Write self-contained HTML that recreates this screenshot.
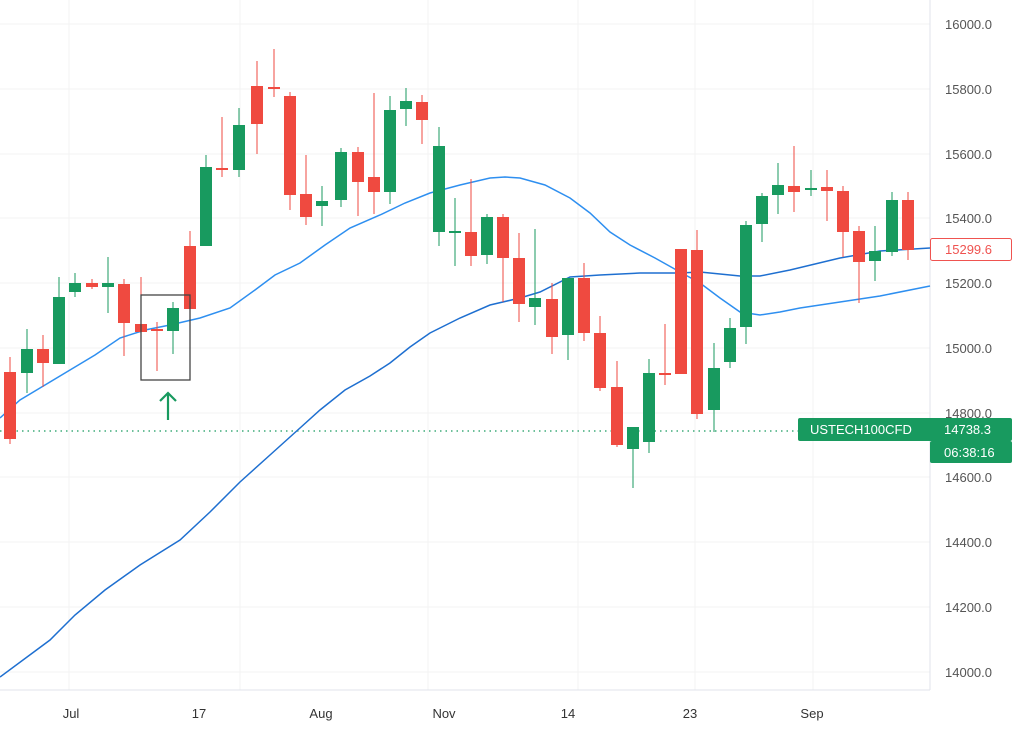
<!DOCTYPE html>
<html><head><meta charset="utf-8"><style>
body{margin:0;background:#fff;width:1024px;height:735px;overflow:hidden;font-family:"Liberation Sans",sans-serif}
</style></head><body>
<svg width="1024" height="735" xmlns="http://www.w3.org/2000/svg" font-family="Liberation Sans, sans-serif">
<g stroke="#f3f3f3" stroke-width="1">
<line x1="0" y1="24" x2="930" y2="24"/><line x1="0" y1="89" x2="930" y2="89"/><line x1="0" y1="154" x2="930" y2="154"/><line x1="0" y1="218" x2="930" y2="218"/><line x1="0" y1="283" x2="930" y2="283"/><line x1="0" y1="348" x2="930" y2="348"/><line x1="0" y1="413" x2="930" y2="413"/><line x1="0" y1="477" x2="930" y2="477"/><line x1="0" y1="542" x2="930" y2="542"/><line x1="0" y1="607" x2="930" y2="607"/><line x1="0" y1="672" x2="930" y2="672"/>
<line x1="69" y1="0" x2="69" y2="690"/><line x1="240" y1="0" x2="240" y2="690"/><line x1="428" y1="0" x2="428" y2="690"/><line x1="578" y1="0" x2="578" y2="690"/><line x1="695" y1="0" x2="695" y2="690"/><line x1="813" y1="0" x2="813" y2="690"/>
</g>
<line x1="930" y1="0" x2="930" y2="690" stroke="#e0e3eb"/>
<line x1="0" y1="690" x2="930" y2="690" stroke="#e0e3eb"/>
<line x1="0" y1="431" x2="800" y2="431" stroke="#189a5f" stroke-width="1.2" stroke-dasharray="1.5,4"/>
<polyline fill="none" stroke="#2e8ff0" stroke-width="1.5" points="0,418 20,400 45,385 70,370 95,355 120,338 145,330 170,325 200,318 230,308 255,290 275,275 300,263 325,245 350,228 380,215 405,203 430,193 460,185 490,178 505,177 520,178 545,185 570,198 590,213 610,232 630,245 655,258 680,272 700,283 720,298 740,312 760,315 780,312 800,308 840,302 880,296 930,286"/>
<polyline fill="none" stroke="#1e6fd0" stroke-width="1.5" points="0,677 50,640 75,615 105,590 140,565 180,540 210,512 240,482 270,455 300,428 320,410 345,390 370,376 390,363 410,347 430,333 460,318 490,305 520,298 540,292 570,277 600,275 640,273 680,273 700,272 720,274 740,276 760,276 790,270 840,258 880,251 930,248"/>
<g id="c"></g>
<rect x="141" y="295" width="49" height="85" fill="none" stroke="#444" stroke-width="1.3"/>
<g stroke="#189a5f" stroke-width="2.2" fill="none"><line x1="168" y1="420" x2="168" y2="393"/><polyline points="160,401 168,393 176,401"/></g>
<g font-size="13" fill="#555">
<text x="945" y="29">16000.0</text><text x="945" y="94">15800.0</text><text x="945" y="159">15600.0</text><text x="945" y="223">15400.0</text><text x="945" y="288">15200.0</text><text x="945" y="353">15000.0</text><text x="945" y="418">14800.0</text><text x="945" y="482">14600.0</text><text x="945" y="547">14400.0</text><text x="945" y="612">14200.0</text><text x="945" y="677">14000.0</text>
</g>
<rect x="930.5" y="238.5" width="81" height="22" rx="2" fill="#fff" stroke="#ef5350"/>
<text x="945" y="254" font-size="13" fill="#ef5350">15299.6</text>
<rect x="798" y="418" width="214" height="23" rx="2" fill="#189a5f"/>
<rect x="930" y="441" width="82" height="22" rx="2" fill="#189a5f"/>
<text x="810" y="434" font-size="13" fill="#fff">USTECH100CFD</text>
<text x="944" y="434" font-size="13" fill="#fff">14738.3</text>
<text x="944" y="457" font-size="13" fill="#fff">06:38:16</text>
<g font-size="13" fill="#333" text-anchor="middle">
<text x="71" y="718">Jul</text><text x="199" y="718">17</text><text x="321" y="718">Aug</text><text x="444" y="718">Nov</text><text x="568" y="718">14</text><text x="690" y="718">23</text><text x="812" y="718">Sep</text>
</g>
</svg>
<script>
var d=[[10,'r',372,439,357,444],[27,'g',349,373,329,393],[43,'r',349,363,335,387],[59,'g',297,364,277,364],[75,'g',283,292,273,297],[92,'r',283,287,279,289],[108,'g',283,287,257,313],[124,'r',284,323,279,356],[141,'r',324,332,277,332],[157,'r',329,331,322,371],[173,'g',308,331,302,354],[190,'r',246,309,231,309],[206,'g',167,246,155,246],[222,'r',168,170,117,177],[239,'g',125,170,108,177],[257,'r',86,124,61,154],[274,'r',87,89,49,97],[290,'r',96,195,92,210],[306,'r',194,217,155,225],[322,'g',201,206,186,226],[341,'g',152,200,148,207],[358,'r',152,182,147,216],[374,'r',177,192,93,214],[390,'g',110,192,96,204],[406,'g',101,109,88,126],[422,'r',102,120,95,144],[439,'g',146,232,127,246],[455,'g',231,233,198,266],[471,'r',232,256,179,266],[487,'g',217,255,214,264],[503,'r',217,258,214,302],[519,'r',258,304,233,322],[535,'g',298,307,229,325],[552,'r',299,337,283,354],[568,'g',278,335,278,360],[584,'r',278,333,263,341],[600,'r',333,388,316,391],[617,'r',387,445,361,447],[633,'g',427,449,427,488],[649,'g',373,442,359,453],[665,'r',373,375,324,385],[681,'r',249,374,249,374],[697,'r',250,414,230,419],[714,'g',368,410,343,432],[730,'g',328,362,318,368],[746,'g',225,327,221,344],[762,'g',196,224,193,242],[778,'g',185,195,163,214],[794,'r',186,192,146,212],[811,'g',188,190,170,196],[827,'r',187,191,170,221],[843,'r',191,232,186,257],[859,'r',231,262,226,303],[875,'g',251,261,226,281],[892,'g',200,252,192,256],[908,'r',200,250,192,260]];
var s='';d.forEach(function(c){var col=c[1]=='r'?'#ef4a40':'#189a5f';var h=Math.max(c[3]-c[2],2);
s+='<line x1="'+c[0]+'" x2="'+c[0]+'" y1="'+c[4]+'" y2="'+c[5]+'" stroke="'+col+'" stroke-width="1"/>';
s+='<rect x="'+(c[0]-6)+'" y="'+c[2]+'" width="12" height="'+h+'" fill="'+col+'"/>';});
document.getElementById('c').innerHTML=s;
</script>
</body></html>
